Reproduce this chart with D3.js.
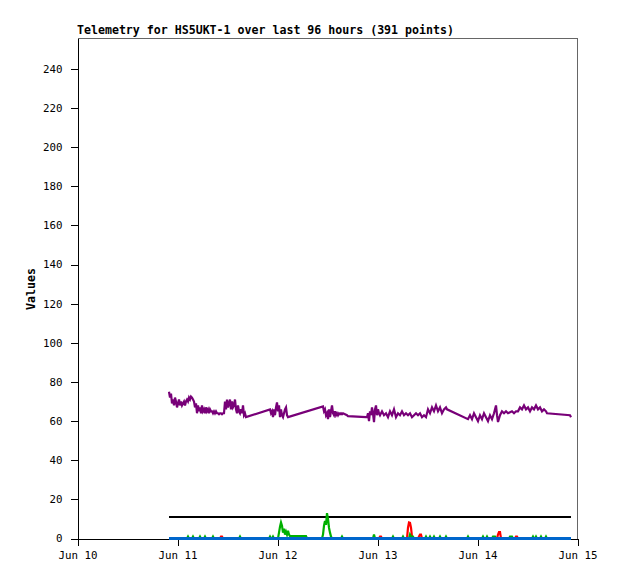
<!DOCTYPE html>
<html><head><meta charset="utf-8">
<script src="https://cdn.jsdelivr.net/npm/d3@7/dist/d3.min.js"></script>
<style>
body{margin:0;background:#fff;}
text{font-family:"DejaVu Sans Mono",monospace;}
</style></head>
<body><svg id="c" width="618" height="579"></svg>
<script>
// ---- data (time = hours after Jun 10 00:00) ----
const titleText = "Telemetry for HS5UKT-1 over last 96 hours (391 points)";
const yLabel = "Values";
const xTickHours = [0, 24, 48, 72, 96, 120];
const xTickLabels = ["Jun 10", "Jun 11", "Jun 12", "Jun 13", "Jun 14", "Jun 15"];
const yTicks = [0,20,40,60,80,100,120,140,160,180,200,220,240];

const purpleSeries = [
[21.96,75],[22.2,72],[22.44,74],[22.68,69],[22.92,71],[23.16,68],[23.4,72],[23.64,70],[23.88,67],[24.12,69],
[24.36,71],[24.6,68],[24.84,70],[25.08,68],[25.32,69],[25.56,70],[25.8,68],[26.04,70],[26.28,71],[26.52,70],
[26.76,72],[27.0,71],[27.24,72.5],[27.48,72],[27.72,71],[27.96,70],[28.2,67],[28.44,69],[28.68,64],
[28.92,68],[29.16,65],[29.4,67],[29.64,64],[29.88,68],[30.12,65],[30.36,66],[30.6,64],[30.84,67],[31.08,65],
[31.32,66],[31.56,64],[31.8,66],[32.04,65],[32.28,65],[32.52,64],[32.76,65],[33.0,64],[33.24,65],[33.48,64],
[33.72,64],[33.96,63.5],[34.2,64],[34.44,64],[34.68,63.5],[34.92,64],
[35.16,64],[35.4,70],[35.64,66],[35.88,71],[36.12,67],[36.36,69],[36.6,71],[36.84,66],[37.08,70],[37.32,67],
[37.56,68],[37.8,71],[38.04,66],[38.28,64],[38.52,68],[38.76,65],[39.0,64],[39.24,66],[39.48,64],[39.72,68],
[39.96,63],[40.2,64],[40.44,62],
[46.2,66],[46.44,64],[46.68,65],[46.92,62],[47.16,66],[47.4,63],[47.64,67],[47.88,69.5],[48.12,65],[48.36,68],
[48.6,62],[48.84,66],[49.08,63],[49.32,62],[49.56,64],[49.8,66],[50.04,67],[50.28,63],[50.52,62],
[58.92,67.5],[59.16,65],[59.4,66],[59.64,63],[59.88,64],[60.12,61],[60.36,66],[60.6,62],[60.84,65],[61.08,68],
[61.32,64],[61.56,63],[61.8,65],[62.04,63],[62.28,64],[62.52,63],[62.76,64],[63.0,63.5],[63.24,64],[63.48,63.5],
[63.72,64],[64.2,63.5],[64.68,63],[64.92,62.5],[69.24,62],
[69.48,62],[69.72,64],[69.96,60],[70.2,65],[70.44,63],[70.68,67],[70.92,64],[71.16,59.5],[71.4,66],[71.64,68],
[71.88,63],[72.12,66],[72.36,64],[72.6,63],
[73.08,65],[73.56,63],[74.04,64],[74.52,62],[75.0,65],[75.48,63],[75.96,66],[76.44,62],[76.92,64],[77.4,63],
[77.88,65],[78.36,63],[78.84,64],[79.32,63],[79.8,64],[80.28,62],[80.76,63],[81.24,64],[81.72,63],[82.2,64],
[82.68,62],[83.16,63],[83.64,62],
[84.12,66],[84.6,64],[85.08,67],[85.56,65],[86.04,68],[86.52,65],[87.0,67],[87.48,64],[87.96,66],[88.44,67],[88.68,66],
[93.72,61],[94.2,63],[94.68,61],[95.16,64],[95.64,62],[96.12,60],[96.6,63],[97.08,61],[97.56,64],[98.04,62],
[98.52,60],[99.0,63],[99.48,61],[99.96,64],[100.44,68],[100.68,63],[100.92,59.5],[101.4,63],
[101.88,65],[102.36,64],[102.84,65],[103.32,64],[103.8,64.5],[104.28,65],[104.76,64],[105.24,65],[105.72,65],
[106.2,67],[106.68,66],[107.16,68],[107.64,66],[108.12,67],[108.6,65],[109.08,67],[109.56,66],[110.04,68],
[110.52,66],[111.0,67],[111.48,65],[111.96,66],[112.44,65],[112.68,64],
[118.2,63],[118.44,62]
];

const limitSeries = [[21.96,11],[118.44,11]];
const baseSeries = [[21.96,0],[118.44,0]];

const greenSeries = [
[21.96,0],[26.28,0],[26.52,1],[26.76,0],[27.48,0],[27.72,1],[27.96,0],[29.16,0],[29.4,1],[29.64,0],
[30.36,0],[30.6,1],[30.84,0],[32.28,0],[32.52,1],[32.76,0],[38.76,0],[39.0,1],[39.24,0],
[45.96,0],[46.2,1],[46.44,0],[46.68,0],[46.92,1],[47.16,0],
[48.12,0],[48.36,3],[48.6,6],[48.84,8.2],[49.08,6.5],[49.32,3],[49.56,5],[49.8,2],[50.04,3.5],[50.28,2],
[50.52,4],[50.76,2],[51.0,1.2],[54.84,1.2],[55.08,0],
[58.68,0],[58.92,2],[59.16,6.5],[59.4,9],[59.64,7],[59.88,13],[60.12,10],[60.36,5.5],[60.6,3],[60.84,1],[61.08,0],
[63.24,0],[63.48,1],[63.72,0],[70.92,0],[71.16,2],[71.4,0],[75.48,0],[75.72,1],[75.96,0],[77.88,0],[78.12,1],[78.36,0],
[79.56,0],[79.8,2],[80.04,1],[80.52,1],[80.76,0],
[83.4,0],[83.64,1],[83.88,0],[84.36,0],[84.6,1],[84.84,0],[85.32,0],[85.56,1],[85.8,0],[86.76,0],[87.0,1],[87.24,0],
[88.2,0],[88.44,1],[88.68,0],[93.48,0],[93.72,1],[93.96,0],[97.08,0],[97.32,1],[97.56,0],[98.04,0],[98.28,1],[98.52,0],
[99.48,0],[99.72,1],[100.2,1],[100.44,0],[103.56,0],[103.8,1],[104.28,1],[104.52,0],
[109.08,0],[109.32,1],[109.56,0],[109.8,0],[110.04,1],[110.28,0],[111.0,0],[111.24,1],[111.48,0],
[112.2,0],[112.44,1],[112.68,0],[118.44,0]
];

const redSeries = [
[21.96,0],[34.2,0],[34.44,1],[34.68,1],[34.92,0],
[72.36,0],[72.6,1],[72.84,1],[73.08,0],
[79.08,0],[79.32,5.5],[79.56,8.2],[79.8,8],[80.04,5.5],[80.28,1],[80.52,0],
[81.72,0],[81.96,1],[82.2,2],[82.44,2],[82.68,0],
[100.68,0],[100.92,2],[101.16,3.3],[101.4,3.3],[101.64,0],
[105.0,0],[105.24,1],[105.48,1],[105.72,0],[118.44,0]
];

// ---- chart ----
const svg = d3.select("#c");
const x = d3.scaleLinear().domain([0,120]).range([77.5,577.5]);
const y = d3.scaleLinear().domain([0,255.5]).range([538.5,38.5]);

// frame (top & right, gray)
svg.append("path").attr("d",`M${x(0)},${y(255.5)}H${x(120)}V${y(0)}`)
  .attr("fill","none").attr("stroke","#666").attr("shape-rendering","crispEdges");

const yAxis = d3.axisLeft(y).tickValues(yTicks).tickSize(7).tickSizeOuter(0).tickPadding(8).tickFormat(d3.format("d"));
const gy = svg.append("g").attr("transform","translate(77.5,0)").call(yAxis);
const xAxis = d3.axisBottom(x).tickValues(xTickHours).tickSize(7).tickSizeOuter(0).tickPadding(6)
  .tickFormat((d,i)=>xTickLabels[i]);
const gx = svg.append("g").attr("transform","translate(0,538.5)").call(xAxis);
[gx,gy].forEach(g=>{
  g.selectAll("path,line").attr("stroke","#000").attr("shape-rendering","crispEdges");
  g.selectAll("text").attr("font-family","DejaVu Sans Mono").attr("font-size","10.8px").attr("fill","#000");
});

const line = d3.line().x(d=>x(d[0])).y(d=>y(d[1]));
function draw(data,color,w,crisp){
  svg.append("path").datum(data).attr("d",line).attr("fill","none")
    .attr("stroke",color).attr("stroke-width",w).attr("stroke-linejoin","miter")
    .attr("shape-rendering",crisp ? "crispEdges" : "auto");
}
draw(purpleSeries,"#780078",2.2,false);
draw(limitSeries,"#000000",2.5,true);
draw(redSeries,"#ff0000",2.2,false);
draw(greenSeries,"#00b000",2.2,false);
draw(baseSeries,"#0066cc",2.5,true);

svg.append("text").attr("x",77).attr("y",34).attr("font-size","11.6px").attr("font-weight","bold")
  .text(titleText);
svg.append("text").attr("transform","translate(35,289) rotate(-90)").attr("text-anchor","middle")
  .attr("font-size","11.6px").attr("font-weight","bold").text(yLabel);
</script></body></html>
